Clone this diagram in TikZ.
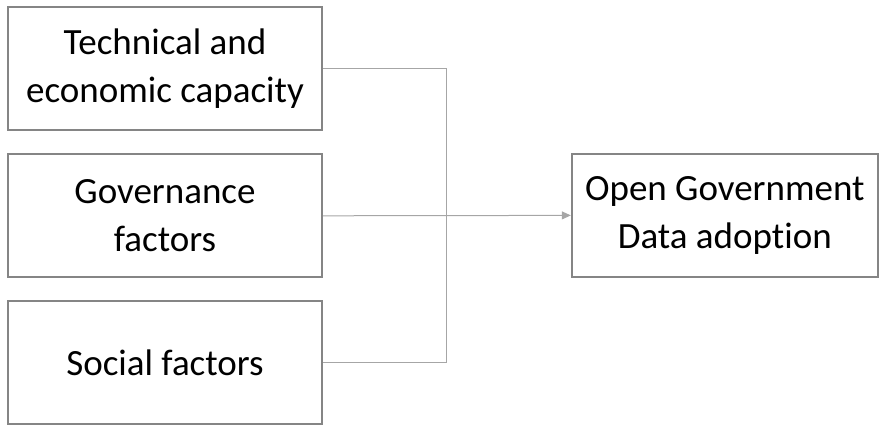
\documentclass[tikz,border=0pt]{standalone}
\usepackage{fontspec}
\setmainfont[RawFeature=-liga]{Carlito}
\usetikzlibrary{arrows.meta}
\begin{document}
\begin{tikzpicture}[x=1pt,y=-1pt,
  factor/.style={draw=black!48, line width=2pt, fill=white, align=center,
    minimum width=314pt, minimum height=123pt, inner sep=0pt,
    font=\fontsize{37}{48.5}\selectfont},
  link/.style={draw=black!35, line width=1pt}]
  \useasboundingbox (0,0) rectangle (879,425);
  \node[factor] (tech) at (165,68.5) {Technical and\\economic capacity};
  \node[factor] (gov) at (165,215.8) {Governance\\factors};
  \node[factor] (soc) at (165,362.5) {Social factors};
  \node[factor, minimum width=306pt] (ogd) at (724.8,215.4) {Open Government\\Data adoption};
  \coordinate (top) at (446.5,68.5);
  \coordinate (bot) at (446.5,362.5);
  \draw[link] (tech.east) -- (top) -- (bot) -- (soc.east);
  \draw[link, -{Triangle[length=9pt,width=8pt]}] (gov.east) -- (ogd.west);
\end{tikzpicture}
\end{document}
